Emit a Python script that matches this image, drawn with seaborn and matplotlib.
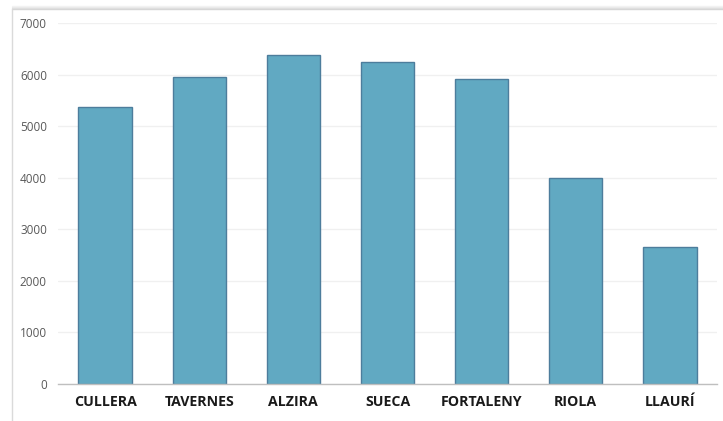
import matplotlib
matplotlib.use("Agg")
import matplotlib.pyplot as plt
import seaborn as sns
import pandas as pd
from matplotlib.lines import Line2D

categories = ["CULLERA", "TAVERNES", "ALZIRA", "SUECA", "FORTALENY", "RIOLA", "LLAURÍ"]
values = [5365, 5945, 6375, 6245, 5910, 3995, 2650]
yticks = [0, 1000, 2000, 3000, 4000, 5000, 6000, 7000]

df = pd.DataFrame({"municipi": categories, "valor": values})

sns.set_theme(style="white")
plt.rcParams['font.family'] = ['Open Sans', 'DejaVu Sans']

W, H = 723, 421
fig = plt.figure(figsize=(W / 100, H / 100), dpi=100)
fig.patch.set_facecolor("white")

# outer chart frame: soft shadow on top, light border on the left
for i, col in enumerate(["#f4f4f4", "#ececec", "#e2e2e2", "#d6d6d6"]):
    yy = (H - 6 - i) / H
    fig.add_artist(Line2D([12 / W, 1.0], [yy, yy], transform=fig.transFigure,
                          color=col, linewidth=1.0))
fig.add_artist(Line2D([12 / W, 12 / W], [0, (H - 9) / H], transform=fig.transFigure,
                      color="#dadada", linewidth=1.0))

ax = fig.add_axes([58 / W, (H - 384) / H, (717 - 58) / W, (384 - 23) / H])
ax.set_facecolor("none")
sns.barplot(data=df, x="municipi", y="valor", ax=ax, color="#61a9c2",
            width=0.565, edgecolor="#4d7d9c", linewidth=1.0, saturation=1)

ax.set_ylim(0, 7000)
ax.set_xlim(-0.5, len(categories) - 0.5)
ax.set_yticks(yticks)
ax.set_yticklabels([str(v) for v in yticks], fontsize=8.5, color="#595959")
ax.set_xticks(range(len(categories)))
ax.set_xticklabels(categories, fontsize=10.2, fontweight="bold", color="#1a1a1a")
ax.tick_params(axis="y", length=0, pad=8)
ax.tick_params(axis="x", length=0, pad=8)
ax.set_xlabel("")
ax.set_ylabel("")
ax.yaxis.grid(True, color="#f0f0f0", linewidth=1.0)
ax.set_axisbelow(True)
for s in ["top", "right", "left"]:
    ax.spines[s].set_visible(False)
ax.spines["bottom"].set_color("#bfbfbf")
ax.spines["bottom"].set_linewidth(1.0)

fig.savefig("out.png", dpi=100)
